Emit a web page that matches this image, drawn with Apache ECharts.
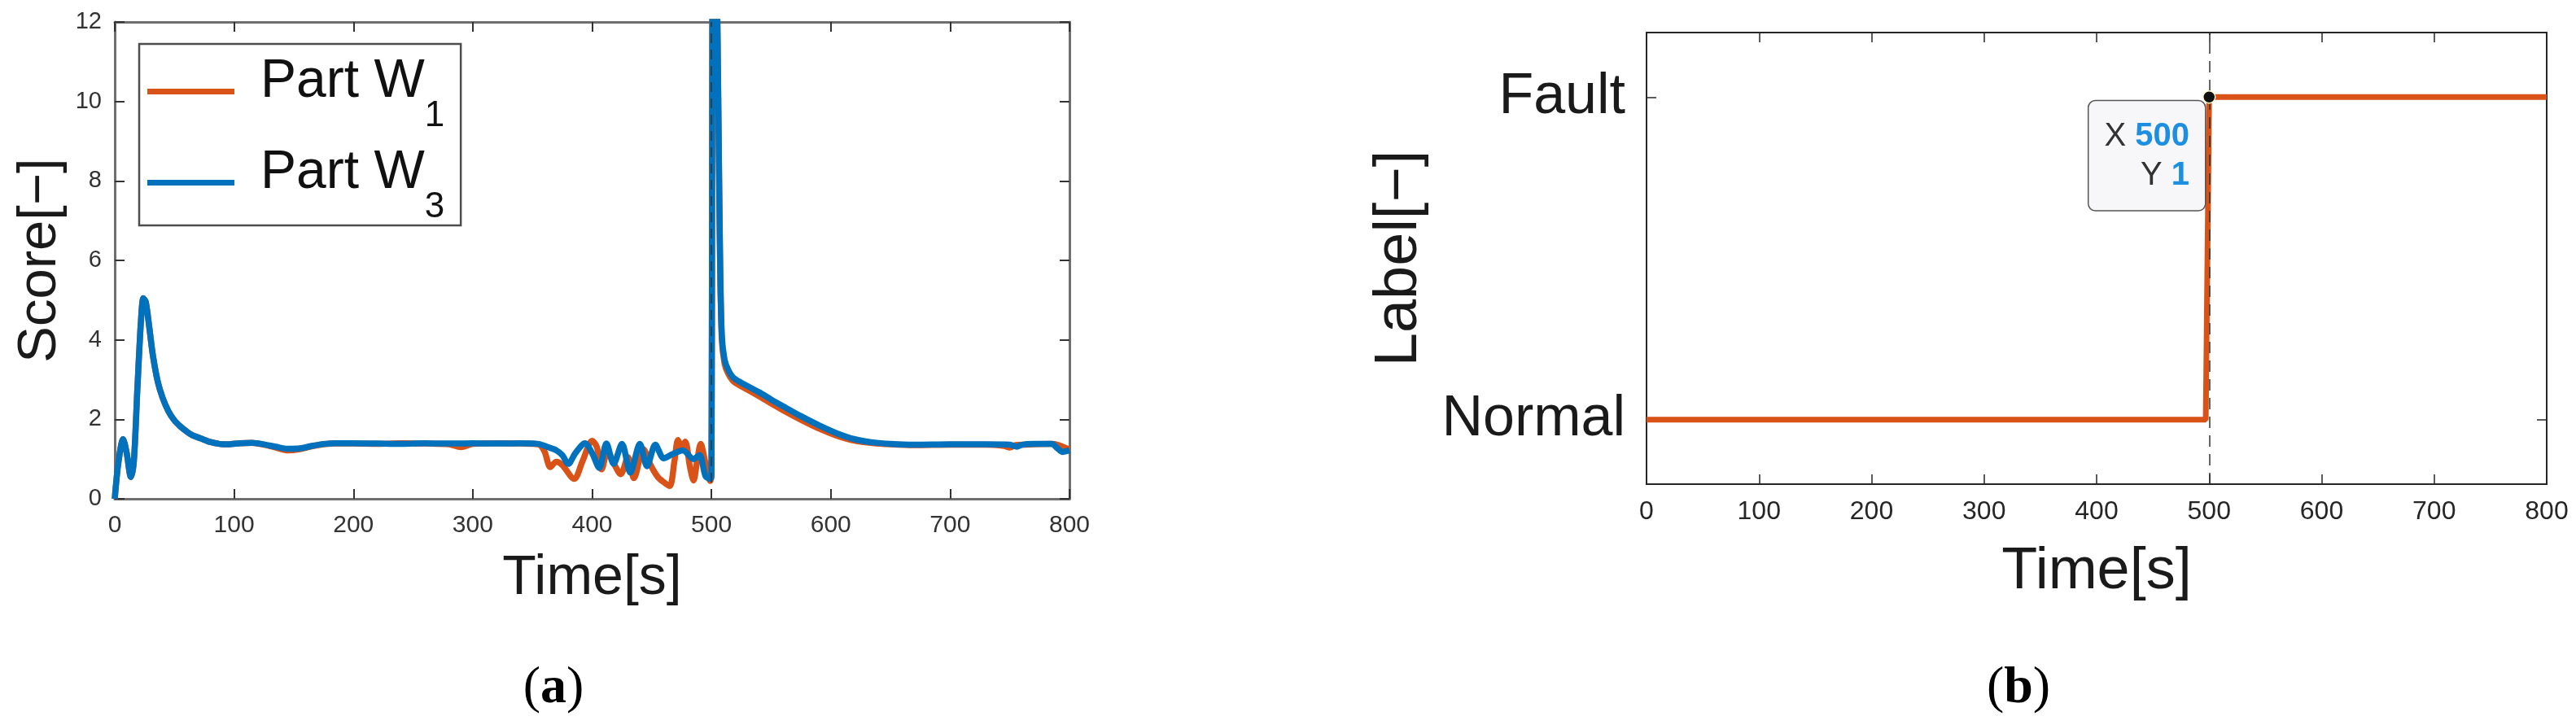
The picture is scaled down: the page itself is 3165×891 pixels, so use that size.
<!DOCTYPE html>
<html>
<head>
<meta charset="utf-8">
<script src="https://cdn.jsdelivr.net/npm/echarts@6/dist/echarts.min.js"></script>
<style>
html,body{margin:0;padding:0;background:#fff;}
#chart{width:3165px;height:891px;}
</style>
</head>
<body>
<div id="chart"></div>
<script>
// ---------- data ----------
const timeW1 = [0,3,7,10,13.5,16,19,22,24,26,29,32,36,40,45,50,55,60,65,72,80,88,95,105,115,125,135,145,155,165,175,185,200,220,240,260,280,290,300,320,340,355,360,365,370,375,385,392,400,404,408,413,418,424,430,435,443,449,455,460,465,469,472,475,478,482,485,488,491,495,499,500,501.5,504,506,507.2,508.7,511,514,518,525,530,540,550,560,575,590,605,620,635,650,670,700,730,745,750,755,770,785,790,795,800];
const scoreW1 = [0,0.9,1.5,1.15,0.55,0.95,2.8,4.5,5.05,4.95,4.3,3.6,2.95,2.55,2.2,1.97,1.82,1.7,1.6,1.52,1.43,1.38,1.37,1.4,1.41,1.36,1.29,1.22,1.25,1.32,1.37,1.39,1.39,1.38,1.4,1.39,1.37,1.3,1.38,1.4,1.39,1.37,1.2,0.8,0.93,0.85,0.5,0.95,1.46,1.3,0.74,1.2,0.9,0.62,1.05,0.52,1.25,0.85,0.55,0.42,0.32,0.95,1.48,1.3,1.44,0.8,0.46,0.95,1.38,0.9,0.45,0.6,16,14,9.2,6.0,4.0,3.4,3.15,2.97,2.83,2.75,2.58,2.4,2.23,1.99,1.77,1.59,1.46,1.4,1.37,1.35,1.36,1.36,1.33,1.29,1.35,1.37,1.38,1.36,1.3,1.24];
const timeW3 = [0,3,7,10,13.5,16,19,22,24,26,29,32,36,40,45,50,55,60,65,72,80,88,95,105,115,125,135,145,155,165,175,185,200,220,240,260,280,300,320,340,355,363,370,375,380,386,394,400,406,412,418,425,432,440,446,453,460,467,476,485,490,495,499,500,501.5,504,506,507.2,508.7,511,514,518,525,530,540,550,560,575,590,605,620,635,650,670,700,730,750,756,760,770,785,790,794,800];
const scoreW3 = [0,0.9,1.5,1.15,0.55,0.95,2.8,4.5,5.05,4.95,4.3,3.6,2.95,2.55,2.2,1.97,1.82,1.7,1.6,1.52,1.43,1.38,1.37,1.4,1.41,1.37,1.31,1.26,1.27,1.33,1.38,1.4,1.4,1.39,1.38,1.4,1.39,1.4,1.39,1.4,1.38,1.3,1.22,1.1,0.88,1.15,1.4,1.15,0.78,1.39,0.88,1.38,0.66,1.38,0.82,1.36,1.02,1.12,1.22,1.0,1.1,0.57,0.5,0.6,16,14,9.3,6.1,4.1,3.5,3.25,3.06,2.92,2.84,2.68,2.5,2.33,2.08,1.85,1.65,1.5,1.42,1.38,1.36,1.37,1.37,1.36,1.31,1.36,1.38,1.38,1.27,1.18,1.22];
const labelTime = [0, 497, 500, 800];
const labelValue = [0, 0, 1, 1];
const stateTicks = [0, 1];
const stateNames = ['Normal', 'Fault'];
const seriesNames = ['Part W1', 'Part W3'];
const captions = ['a', 'b'];

// ---------- helpers ----------
const zip = (xs, ys) => xs.map((x, i) => [x, ys[i]]);
const SANS = "'Liberation Sans', Arial, sans-serif";
const NARROW = "'Liberation Sans Narrow', 'Liberation Sans', Arial, sans-serif";
const SERIF = "'Liberation Serif', 'Times New Roman', serif";
const ORANGE = '#D95319';
const BLUE = '#0072BD';
const faultIdx = labelValue.indexOf(1);
const faultT = labelTime[faultIdx];
const faultV = labelValue[faultIdx];

function boxAxis(base) {
  const ax = Object.assign({
    type: 'value',
    splitLine: { show: false },
    axisLabel: { show: false }
  }, base);
  ax.axisLine = Object.assign({ onZero: false }, ax.axisLine);
  return ax;
}

const leftLine = { show: true, onZero: false, lineStyle: { color: '#6f6f6f', width: 3 } };
const leftTick = { show: true, inside: true, length: 12, lineStyle: { color: '#333', width: 2 } };
const rightLine = { show: true, onZero: false, lineStyle: { color: '#262626', width: 2 } };
const rightTick = { show: true, inside: true, length: 12, lineStyle: { color: '#262626', width: 1.5 } };

const chart = echarts.init(document.getElementById('chart'), null, { renderer: 'canvas' });

const option = {
  animation: false,
  backgroundColor: '#ffffff',
  grid: [
    { left: 141, top: 27, width: 1173, height: 586, outerBoundsMode: 'none', show: false },
    { left: 2023, top: 40, width: 1106, height: 555, outerBoundsMode: 'none', show: false }
  ],
  legend: {
    data: seriesNames,
    orient: 'vertical',
    left: 171,
    top: 54,
    padding: [14, 20, 0, 10],
    borderColor: '#4d4d4d',
    borderWidth: 2.5,
    backgroundColor: '#ffffff',
    icon: 'path://M0,0L107,0L0,0ZM0,23L107,23L107,30L0,30Z',
    itemWidth: 107,
    itemHeight: 30,
    itemGap: 15,
    selectedMode: false,
    formatter: name => '{n|' + name.slice(0, -1) + '}{s|' + name.slice(-1) + '}',
    textStyle: {
      color: '#111',
      fontFamily: SANS,
      fontSize: 66,
      rich: {
        n: { fontFamily: SANS, fontSize: 66, lineHeight: 66, color: '#111', verticalAlign: 'top', padding: [0, 0, 0, 27] },
        s: { fontFamily: SANS, fontSize: 44, lineHeight: 44, color: '#111', verticalAlign: 'top', padding: [53, 0, 0, 0] }
      }
    }
  },
  xAxis: [
    boxAxis({
      gridIndex: 0, position: 'bottom', min: 0, max: 800, interval: 100,
      axisLine: leftLine, axisTick: leftTick,
      axisLabel: { show: true, fontFamily: NARROW, fontSize: 30, color: '#333', margin: 18 },
      name: 'Time[s]', nameLocation: 'middle', nameGap: 64,
      nameTextStyle: { fontFamily: SANS, fontSize: 68, color: '#1a1a1a' }
    }),
    boxAxis({ gridIndex: 0, position: 'top', min: 0, max: 800, interval: 100, axisLine: leftLine, axisTick: leftTick }),
    boxAxis({
      gridIndex: 1, position: 'bottom', min: 0, max: 800, interval: 100,
      axisLine: rightLine, axisTick: rightTick,
      axisLabel: { show: true, fontFamily: NARROW, fontSize: 32, color: '#262626', margin: 18 },
      name: 'Time[s]', nameLocation: 'middle', nameGap: 72,
      nameTextStyle: { fontFamily: SANS, fontSize: 72, color: '#1a1a1a' }
    }),
    boxAxis({ gridIndex: 1, position: 'top', min: 0, max: 800, interval: 100, axisLine: rightLine, axisTick: rightTick })
  ],
  yAxis: [
    boxAxis({
      gridIndex: 0, position: 'left', min: 0, max: 12, interval: 2,
      axisLine: leftLine, axisTick: leftTick,
      axisLabel: { show: true, fontFamily: NARROW, fontSize: 29, color: '#333', margin: 16 },
      name: 'Score[\u2212]', nameLocation: 'middle', nameGap: 58, nameMoveOverlap: false,
      nameTextStyle: { fontFamily: SANS, fontSize: 67, color: '#1a1a1a' }
    }),
    boxAxis({ gridIndex: 0, position: 'right', min: 0, max: 12, interval: 2, axisLine: leftLine, axisTick: leftTick }),
    boxAxis({
      gridIndex: 1, position: 'left', min: -0.2, max: 1.2,
      axisLine: rightLine,
      axisTick: Object.assign({}, rightTick, { customValues: stateTicks }),
      axisLabel: {
        show: true, customValues: stateTicks,
        formatter: v => stateNames[stateTicks.indexOf(Math.round(v))],
        fontFamily: SANS, fontSize: 70, color: '#1a1a1a', margin: 26
      },
      name: 'Label[\u2212]', nameLocation: 'middle', nameGap: 266, nameMoveOverlap: false,
      nameTextStyle: { fontFamily: SANS, fontSize: 74, color: '#1a1a1a' }
    }),
    boxAxis({
      gridIndex: 1, position: 'right', min: -0.2, max: 1.2,
      axisLine: rightLine,
      axisTick: Object.assign({}, rightTick, { customValues: stateTicks })
    })
  ],
  series: [
    {
      name: seriesNames[0], type: 'line', xAxisIndex: 0, yAxisIndex: 0,
      data: zip(timeW1, scoreW1), showSymbol: false, symbol: 'none', smooth: 0.3,
      lineStyle: { color: ORANGE, width: 7.5 }, itemStyle: { color: ORANGE },
      clip: true, z: 2,
      markLine: {
        silent: true, symbol: ['none', 'none'], label: { show: false },
        lineStyle: { color: '#333', width: 1.5, type: [12, 8] },
        data: [{ xAxis: faultT }]
      }
    },
    {
      name: seriesNames[1], type: 'line', xAxisIndex: 0, yAxisIndex: 0,
      data: zip(timeW3, scoreW3), showSymbol: false, symbol: 'none', smooth: 0.3,
      lineStyle: { color: BLUE, width: 7.5 }, itemStyle: { color: BLUE },
      clip: true, z: 3
    },
    {
      name: 'Label', type: 'line', xAxisIndex: 2, yAxisIndex: 2,
      data: zip(labelTime, labelValue), showSymbol: false, symbol: 'none',
      lineStyle: { color: ORANGE, width: 7 }, itemStyle: { color: ORANGE },
      z: 2,
      markLine: {
        silent: true, symbol: ['none', 'none'], label: { show: false },
        lineStyle: { color: '#333', width: 1.5, type: [14, 9] },
        data: [{ xAxis: faultT }]
      },
      markPoint: {
        silent: true,
        symbol: 'circle', symbolSize: 15,
        itemStyle: { color: '#111', borderColor: '#fffbd0', borderWidth: 1.5 },
        data: [{ coord: [faultT, faultV] }],
        label: {
          show: true,
          position: 'left',
          distance: -3,
          offset: [0, 72],
          align: 'right',
          formatter: () => '{k|X} {v|' + faultT + '}\n{k|Y} {v|' + faultV + '}',
          fontFamily: SANS, fontSize: 40, lineHeight: 48, color: '#333',
          backgroundColor: '#F7F7F9',
          borderColor: '#555', borderWidth: 1.5, borderRadius: 8,
          padding: [20, 19, 18, 19],
          rich: {
            k: { fontFamily: SANS, fontSize: 40, lineHeight: 48, color: '#333' },
            v: { fontFamily: SANS, fontSize: 40, lineHeight: 48, color: '#1E8FE0', fontWeight: 'bold' }
          }
        }
      }
    }
  ],
  graphic: [
    {
      type: 'text', x: 680, y: 846,
      style: {
        text: '{p|(}{b|' + captions[0] + '}{p|)}',
        align: 'center', verticalAlign: 'middle',
        rich: {
          p: { fontFamily: SERIF, fontSize: 64, fill: '#000' },
          b: { fontFamily: SERIF, fontSize: 64, fontWeight: 'bold', fill: '#000' }
        }
      }
    },
    {
      type: 'text', x: 2480, y: 846,
      style: {
        text: '{p|(}{b|' + captions[1] + '}{p|)}',
        align: 'center', verticalAlign: 'middle',
        rich: {
          p: { fontFamily: SERIF, fontSize: 64, fill: '#000' },
          b: { fontFamily: SERIF, fontSize: 64, fontWeight: 'bold', fill: '#000' }
        }
      }
    }
  ]
};

chart.setOption(option);
</script>
</body>
</html>
